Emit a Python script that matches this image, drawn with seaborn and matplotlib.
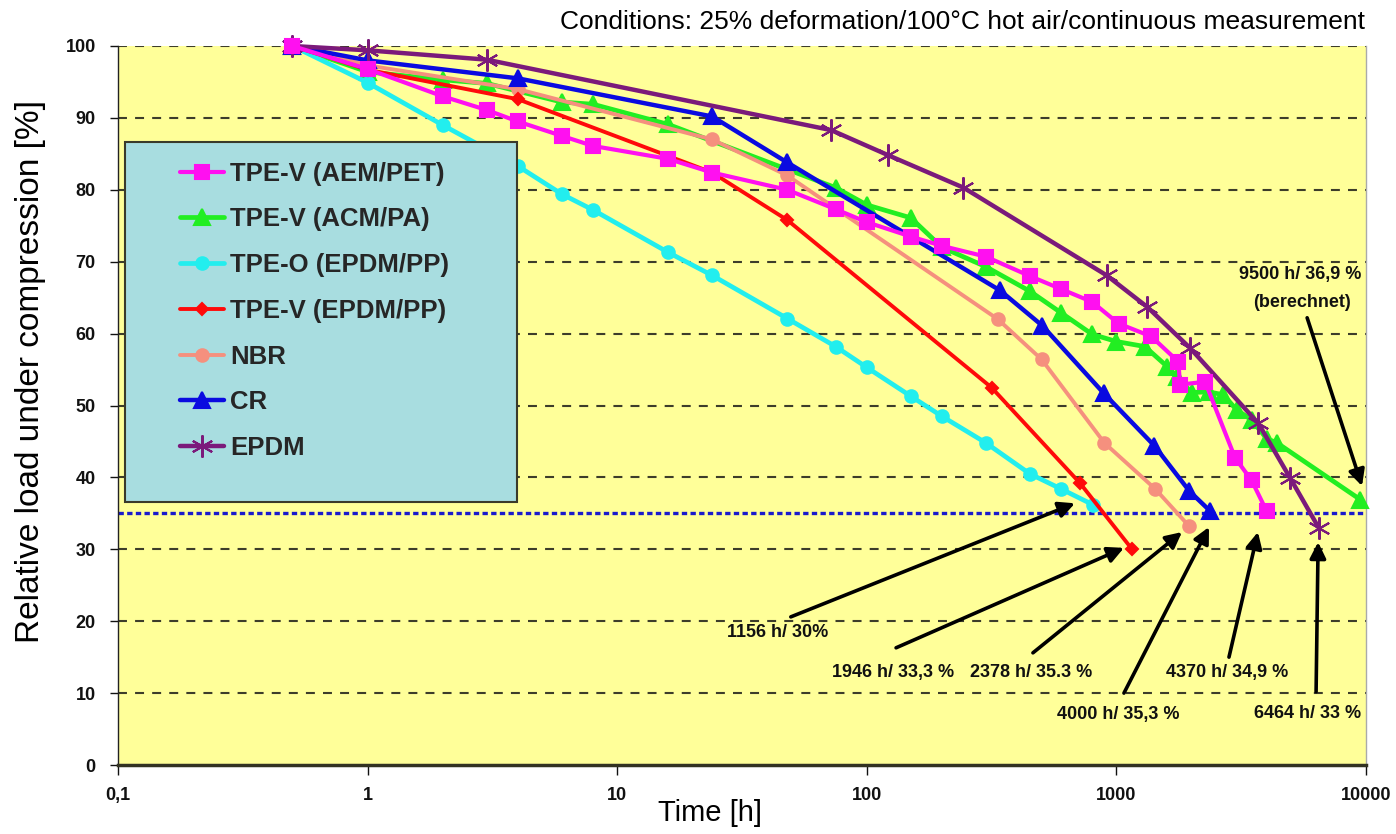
import matplotlib
matplotlib.use("Agg")
import matplotlib.pyplot as plt
from matplotlib.patches import Rectangle
from matplotlib.ticker import NullLocator
import seaborn as sns

# ---- data: relative load under compression [%] vs. time [h] ----
time_aem = [0.5, 1, 2, 3, 4, 6, 8, 16, 24, 48, 75, 100, 150, 200, 300, 450, 600,
            800, 1020, 1380, 1770, 1800, 2266, 2990, 3480, 4000]
load_aem = [100, 96.8, 93.0, 91.1, 89.5, 87.5, 86.1, 84.3, 82.4, 80.0, 77.3, 75.5,
            73.5, 72.2, 70.7, 68.0, 66.2, 64.4, 61.4, 59.6, 56.1, 52.9, 53.3, 42.7,
            39.6, 35.3]

time_acm = [0.5, 1, 2, 3, 6, 8, 16, 75, 100, 150, 200, 300, 450, 600, 800, 1000,
            1300, 1600, 1750, 2000, 2340, 2680, 3030, 3480, 4000, 4400, 9500]
load_acm = [100, 96.4, 95.3, 94.8, 92.2, 91.9, 89.1, 80.3, 77.9, 76.1, 72.0, 69.3,
            65.9, 62.9, 59.9, 58.9, 58.2, 55.4, 54.0, 51.8, 51.9, 51.5, 49.4, 48.0,
            45.4, 44.8, 36.9]

time_tpeo = [0.5, 1, 2, 4, 6, 8, 16, 24, 48, 75, 100, 150, 200, 300, 450, 600, 805]
load_tpeo = [100, 94.9, 89.0, 83.3, 79.4, 77.2, 71.3, 68.1, 62.1, 58.2, 55.3, 51.3,
             48.5, 44.8, 40.5, 38.4, 36.2]

time_tpev = [0.5, 1, 4, 24, 48, 316, 715, 1156]
load_tpev = [100, 96.7, 92.6, 82.4, 75.8, 52.5, 39.2, 30.0]

time_nbr = [0.5, 1, 4, 24, 48, 335, 502, 895, 1430, 1946]
load_nbr = [100, 97.3, 94.0, 87.0, 82.0, 62.0, 56.4, 44.8, 38.4, 33.3]

time_cr = [0.5, 1, 4, 24, 48, 342, 505, 890, 1420, 1960, 2378]
load_cr = [100, 98.0, 95.5, 90.2, 83.8, 66.0, 61.1, 51.7, 44.4, 38.1, 35.3]

time_epdm = [0.5, 1, 3, 72, 122, 244, 914, 1330, 1972, 3707, 4970, 6464]
load_epdm = [100, 99.4, 98.1, 88.3, 84.8, 80.3, 68.1, 63.7, 58.0, 47.5, 39.9, 33.0]

series_names = ["TPE-V (AEM/PET)", "TPE-V (ACM/PA)", "TPE-O (EPDM/PP)",
                "TPE-V (EPDM/PP)", "NBR", "CR", "EPDM"]

limit_load = 35

x_ticks = [0.1, 1, 10, 100, 1000, 10000]
x_tick_labels = ["0,1", "1", "10", "100", "1000", "10000"]
y_ticks = list(range(0, 101, 10))

# endpoint callouts: label, text position (h, %), arrow tail, arrow tip
callout_labels = ["1156 h/ 30%", "1946 h/ 33,3 %", "2378 h/ 35.3 %",
                  "4000 h/ 35,3 %", "4370 h/ 34,9 %", "6464 h/ 33 %"]
callout_text_pos = [(44.1, 18.4), (127, 12.9), (455, 12.9), (1014, 7.0),
                    (2773, 12.9), (5810, 7.2)]
callout_tail = [(49.6, 20.6), (131, 16.3), (463, 15.6), (1072, 10.0),
                (2825, 15.0), (6310, 10.2)]
callout_tip = [(682, 36.4), (1072, 30.2), (1832, 32.4), (2350, 33.1),
               (3690, 32.4), (6430, 31.0)]

calc_label = "9500 h/ 36,9 %"
calc_note = "(berechnet)"
calc_label_pos = (5445, 68.2)
calc_note_pos = (5545, 64.3)
calc_tail = (5810, 62.2)
calc_tip = (9640, 38.8)

conditions = "Conditions: 25% deformation/100°C hot air/continuous measurement"

# ---- styling ----
sns.set_style("white")
plt.rcParams["font.family"] = ["Liberation Sans", "DejaVu Sans"]
bold_font = ["Liberation Sans", "DejaVu Sans"]

styles = {
    "TPE-V (AEM/PET)": dict(color="#FF10F0", marker="s", ms=10, lw=3.0, z=4),
    "TPE-V (ACM/PA)": dict(color="#22EE22", marker="^", ms=11, lw=3.4, z=3),
    "TPE-O (EPDM/PP)": dict(color="#22EEEE", marker="o", ms=9, lw=3.4, z=3),
    "TPE-V (EPDM/PP)": dict(color="#FF0a0a", marker="D", ms=6.5, lw=2.8, z=3.5),
    "NBR": dict(color="#F5907E", marker="o", ms=9, lw=2.8, z=3.2),
    "CR": dict(color="#0a0ae0", marker="^", ms=12, lw=3.2, z=3.6),
    "EPDM": dict(color="#7B1A7B", marker=(6, 2, 0), ms=16, lw=3.2, z=3.8),
}

times = [time_aem, time_acm, time_tpeo, time_tpev, time_nbr, time_cr, time_epdm]
loads = [load_aem, load_acm, load_tpeo, load_tpev, load_nbr, load_cr, load_epdm]

fig = plt.figure(figsize=(13.96, 8.34), dpi=100)
ax = fig.add_axes([118 / 1396, 1 - 765 / 834, 1248 / 1396, 719 / 834])
ax.set_facecolor("#FFFF99")

for name, t, v in zip(series_names, times, loads):
    st = styles[name]
    sns.lineplot(x=t, y=v, ax=ax, color=st["color"], marker=st["marker"],
                 markersize=st["ms"], linewidth=st["lw"], label=name,
                 estimator=None, sort=False, markeredgecolor=st["color"],
                 markeredgewidth=1.5, clip_on=False, zorder=st["z"])

ax.axhline(limit_load, color="#1a1acc", lw=2.4, linestyle=(0, (1.6, 1.0)), zorder=2)

ax.set_xscale("log")
ax.set_xlim(0.1, 10000)
ax.set_ylim(0, 100)
ax.set_xticks(x_ticks)
ax.set_xticklabels(x_tick_labels)
ax.xaxis.set_minor_locator(NullLocator())
ax.set_yticks(y_ticks)
ax.set_yticklabels([str(v) for v in y_ticks])

for y in y_ticks[1:]:
    ax.axhline(y, color="#3d3d2a", lw=1.5, linestyle=(0, (4.3, 3.9)), zorder=1)

for lab in ax.get_xticklabels() + ax.get_yticklabels():
    lab.set_family(bold_font)
    lab.set_fontweight("bold")
    lab.set_fontsize(13)

ax.tick_params(axis="y", direction="out", length=6, width=1, pad=10,
               colors="#111111", left=True)
ax.tick_params(axis="x", direction="out", length=7, width=1, pad=9,
               colors="#111111", bottom=True)

ax.spines["top"].set_visible(False)
ax.spines["right"].set_color("#aaaaaa")
ax.spines["right"].set_linewidth(1.0)
ax.spines["left"].set_color("#222222")
ax.spines["left"].set_linewidth(1.0)
ax.spines["bottom"].set_color("#333322")
ax.spines["bottom"].set_linewidth(2.5)

ax.set_xlabel("Time [h]", fontsize=21, color="black")
ax.xaxis.set_label_coords(0.474, -0.047)
ax.set_ylabel("Relative load under compression [%]", fontsize=24, color="black")
ax.yaxis.set_label_coords(-0.058, 0.547)

# legend box on top of the curves
box = Rectangle((0.0056, 0.366), 0.3141, 0.5005, transform=ax.transAxes,
                facecolor="#A8DDE0", edgecolor="#3a3a2a", lw=1.5, zorder=8)
ax.add_patch(box)
handles, labels = ax.get_legend_handles_labels()
leg = ax.legend(handles, labels, loc="upper left",
                bbox_to_anchor=(0.0497, 0.839), frameon=False,
                borderpad=0, borderaxespad=0, handlelength=1.7,
                handletextpad=0.25, labelspacing=0.845,
                prop=dict(family=bold_font, weight="bold", size=18.5))
leg.set_zorder(9)

# endpoint callouts
arrow_kw = dict(arrowstyle="-|>", color="black", lw=2.6, mutation_scale=24,
                shrinkA=0, shrinkB=0)
for lab, tp, tail, tip in zip(callout_labels, callout_text_pos, callout_tail,
                              callout_tip):
    ax.annotate("", xy=tip, xytext=tail, arrowprops=arrow_kw, zorder=6)
    ax.text(tp[0], tp[1], lab, ha="center", va="center", fontsize=13,
            fontweight="bold", family=bold_font, color="#111111", zorder=7)

ax.annotate("", xy=calc_tip, xytext=calc_tail, arrowprops=arrow_kw, zorder=6)
ax.text(*calc_label_pos, calc_label, ha="center", va="center", fontsize=13,
        fontweight="bold", family=bold_font, color="#111111", zorder=7)
ax.text(*calc_note_pos, calc_note, ha="center", va="center", fontsize=13,
        fontweight="bold", family=bold_font, color="#111111", zorder=7)

fig.text(1365 / 1396, 1 - 22 / 834, conditions, ha="right", va="center",
         fontsize=19, color="black")

fig.savefig("out.png", dpi=100, facecolor="white")
